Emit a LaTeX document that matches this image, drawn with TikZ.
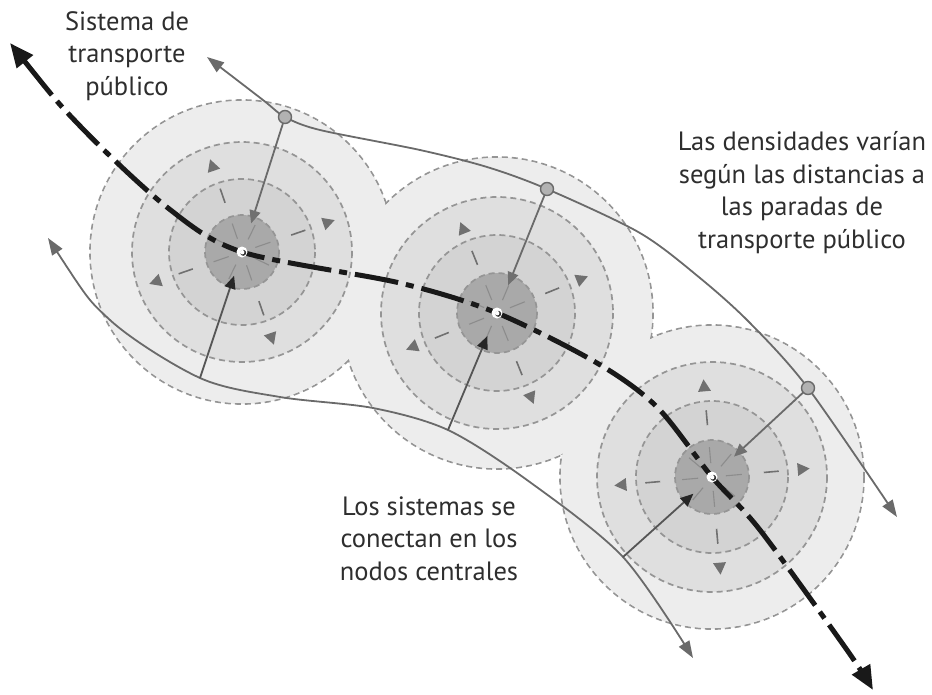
\documentclass[tikz,border=0pt]{standalone}
\usepackage{fontspec}
\setmainfont{PT Sans}
\usetikzlibrary{arrows.meta,calc}
\definecolor{txt}{HTML}{2E2E2E}
\definecolor{zoneA}{HTML}{EDEDED}
\definecolor{zoneB}{HTML}{DFDFDF}
\definecolor{zoneC}{HTML}{D3D3D3}
\definecolor{zoneD}{HTML}{A9A9A9}
\definecolor{ringc}{HTML}{959595}
\definecolor{curvec}{HTML}{6A6A6A}
\definecolor{markc}{HTML}{707070}
\tikzset{
  ringline/.style={draw=ringc, line width=1.7pt, dash pattern=on 6pt off 4pt},
  gcurve/.style={draw=curvec, line width=1.8pt, {Triangle[length=17pt,width=12pt]}-{Triangle[length=17pt,width=12pt]}},
  mainline/.style={draw=black!90, line width=5pt, dash pattern=on 44pt off 8pt on 8pt off 8pt, {Triangle[length=24pt,width=20pt]}-{Triangle[length=24pt,width=20pt]}},
  rayup/.style={draw=curvec, line width=1.8pt, -{Triangle[length=13pt,width=11pt,fill=markc,color=markc]}},
  raylow/.style={draw=curvec!80!black, line width=1.8pt, -{Triangle[length=13pt,width=11pt,fill=black!85,color=black!85]}},
  stopnode/.style={circle, draw=curvec, fill=black!30, line width=1.4pt, minimum size=13pt, inner sep=0pt},
  label/.style={text=txt, align=center, font=\fontsize{26.5}{32.5}\selectfont, inner sep=0pt}
}
\begin{document}
\begin{tikzpicture}[x=1pt,y=-1pt]
\useasboundingbox (0,0) rectangle (932,694);
\coordinate (c1) at (242,252);
\coordinate (c2) at (497,313);
\coordinate (c3) at (712,477);
\coordinate (s1) at (285,117);
\coordinate (s2) at (547,189);
\coordinate (s3) at (808,388);
\coordinate (b1) at (200,378);
\coordinate (b2) at (448,430);
\coordinate (b3) at (623,557);

% outer zones (union)
\foreach \c/\r in {c1/152,c2/156,c3/152} \fill[zoneA] (\c) circle (\r);
\foreach \c/\r in {c1/152,c2/156,c3/152} \draw[ringline] (\c) circle (\r);
\foreach \c/\r in {c1/151,c2/155,c3/151} \fill[zoneA] (\c) circle (\r);

% inner rings and marks
\foreach \c/\rb/\rc/\rd/\ang in {c1/110/73/37/-19, c2/116/78/40/-22, c3/115/76/37/-5}{
  \filldraw[fill=zoneB, ringline] (\c) circle (\rb);
  \filldraw[fill=zoneC, ringline] (\c) circle (\rc);
  \filldraw[fill=zoneD, ringline] (\c) circle (\rd);
  \foreach \k in {0,1,2,3}{
    \pgfmathsetmacro\a{\ang+90*\k}
    \pgfmathsetmacro\ap{\a+90}
    \pgfmathsetmacro\am{\a-90}
    \fill[markc] ($(\c)+(\a:98)$) -- ($(\c)+(\a:86)+(\ap:6.5)$) -- ($(\c)+(\a:86)+(\am:6.5)$) -- cycle;
    \draw[markc, line width=1.6pt] ($(\c)+(\a:52)$) -- ($(\c)+(\a:67)$);
  }
  \foreach \k in {0,...,7}{
    \pgfmathsetmacro\a{\ang+45*\k}
    \draw[black!45, line width=1.1pt] ($(\c)+(\a:14)$) -- ($(\c)+(\a:30)$);
  }
}

% curves
\draw[gcurve] plot[smooth, tension=0.5] coordinates {(207,57) (263,100) (s1) (320,130) (420,150) (487,167) (s2) (640,233) (700,278) (750,323) (s3) (897,517)};
\draw[gcurve] plot[smooth, tension=0.5] coordinates {(48,238) (110,320) (b1) (280,397) (373,408) (b2) (527,480) (b3) (693,658)};

% radial arrows
\draw[rayup] (s1) -- ($(c1)!30pt!(s1)$);
\draw[rayup] (s2) -- ($(c2)!30pt!(s2)$);
\draw[rayup] (s3) -- ($(c3)!30pt!(s3)$);
\draw[raylow] (b1) -- ($(c1)!25pt!(b1)$);
\draw[raylow] (b2) -- ($(c2)!25pt!(b2)$);
\draw[raylow] (b3) -- ($(c3)!25pt!(b3)$);

% main transit line
\draw[mainline] plot[smooth, tension=0.5] coordinates {(10,43) (80,126) (168,208) (c1) (400,283) (c2) (597,363) (657,407) (c3) (760,530) (847,650) (873,690)};

% stops
\node[stopnode] (st1) at (s1) {};
\node[stopnode] (st2) at (s2) {};
\node[stopnode] (st3) at (s3) {};

% centre dots
\foreach \c in {c1,c2,c3}{
  \fill[white] (\c) circle (5.5);
  \fill[black!80] ($(\c)+(1.2,0.8)$) circle (3);
  \fill[white] ($(\c)+(0.2,0.2)$) circle (2.2);
}

% labels (anchor base = baseline of last line)
\node[label, anchor=base] (t1) at (127,95) {Sistema de\\transporte\\público};
\node[label, anchor=base] (t2) at (802,248) {Las densidades varían\\según las distancias a\\las paradas de\\transporte público};
\node[label, anchor=base] (t3) at (429,580) {Los sistemas se\\conectan en los\\nodos centrales};
\end{tikzpicture}
\end{document}
